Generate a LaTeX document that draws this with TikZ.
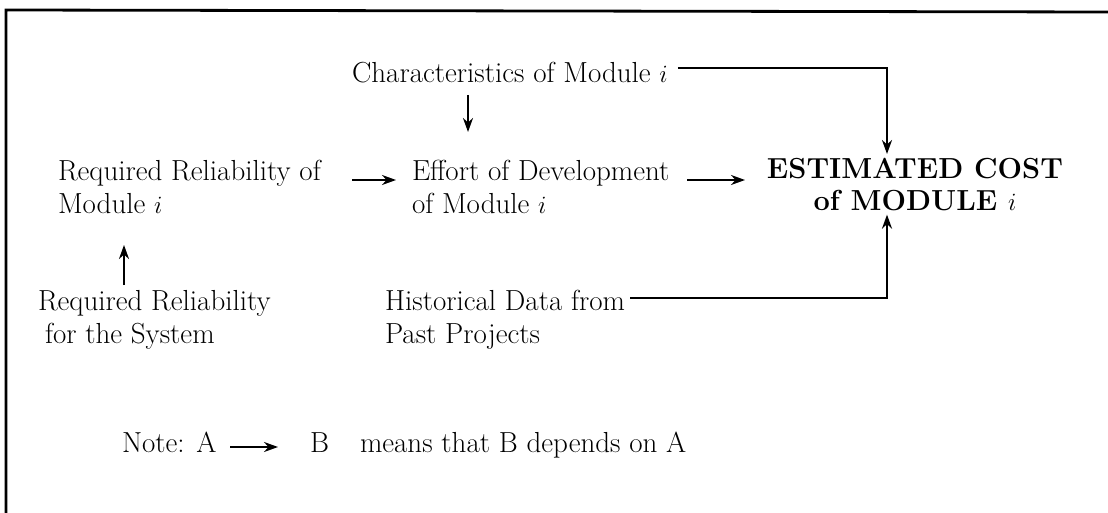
\documentclass[tikz,border=0pt]{standalone}
\usetikzlibrary{arrows.meta}
\begin{document}
\begin{tikzpicture}[x=1pt,y=-1pt,
  lbl/.style={inner sep=0pt,outer sep=0pt,align=left,font=\fontsize{29}{33}\selectfont},
  arr/.style={line width=2.3pt,-{Stealth[length=14pt,width=10pt]}},
  lin/.style={line width=2.3pt}]
\useasboundingbox (0,0) rectangle (1108,513);
\draw[line width=2.8pt] (6,513) -- (6,10) -- (1108,12);
% nodes
\node[lbl,anchor=north west] (char) at (352,62) {Characteristics of Module $i$};
\node[lbl,anchor=north west] (rrm) at (58,160) {Required Reliability of\\Module $i$};
\node[lbl,anchor=north west] (eff) at (412,160) {Effort of Development\\of Module $i$};
\node[lbl,anchor=north,align=center,font=\fontsize{29}{32}\selectfont\bfseries] (est) at (915,158) {ESTIMATED COST\\of MODULE $i$};
\node[lbl,anchor=north west] (rrs) at (38,290) {Required Reliability\\\hspace*{7pt}for the System};
\node[lbl,anchor=north west] (hist) at (385,290) {Historical Data from\\Past Projects};
\node[lbl,anchor=base west] (noteA) at (122,452) {Note: A};
\node[lbl,anchor=base west] (noteB) at (310,452) {B};
\node[lbl,anchor=base west] (means) at (360,452) {means that B depends on A};
\coordinate (cc) at (887,68);
\coordinate (hc) at (887,298);
% connectors
\draw[arr] (352,180) -- (396,180);
\draw[arr] (687,180) -- (745,180);
\draw[arr] (468,95) -- (468,132);
\draw[arr] (124,285) -- (124,245);
\draw[arr,shorten >=4pt] (char.east |- cc) ++(10,0) -| (est.north -| cc);
\draw[arr,shorten >=4pt] (hist.east |- hc) ++(5,0) -| (est.south -| hc);
\draw[arr] (230,447) -- (278,447);
\end{tikzpicture}
\end{document}
